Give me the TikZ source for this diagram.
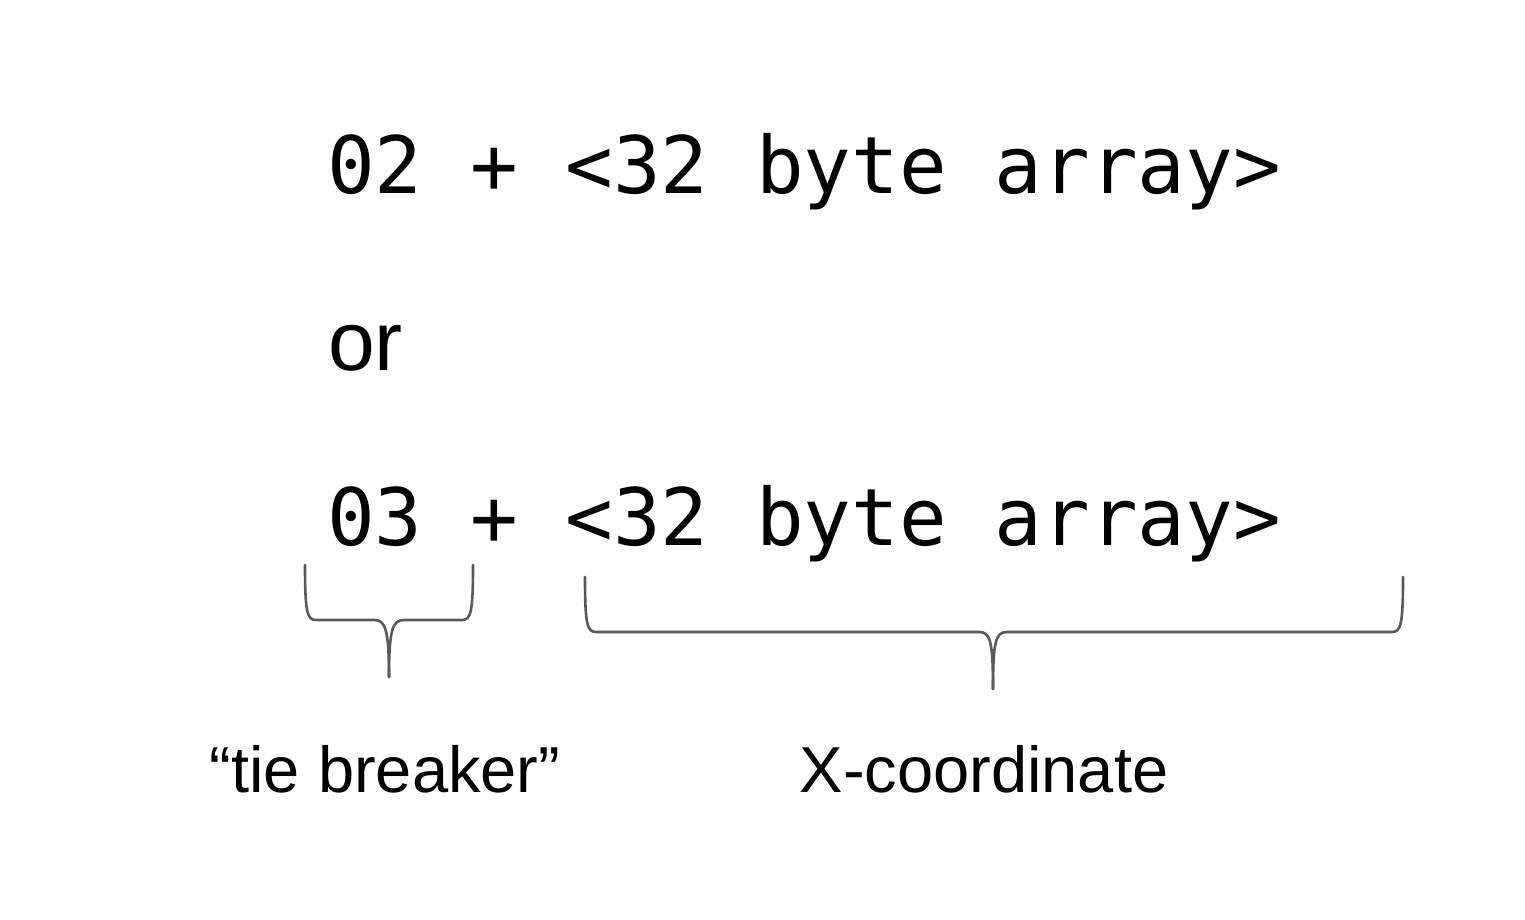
\documentclass[tikz,border=0pt]{standalone}
\usepackage{fontspec}
\setmainfont{Liberation Sans}
\newfontfamily\codefont{DejaVu Sans Mono}
\definecolor{bracegray}{HTML}{5A5A5A}
\begin{document}
\begin{tikzpicture}[x=1pt,y=-1pt,
  code/.style={inner sep=0pt,anchor=base west,font=\codefont\fontsize{79.2}{80}\selectfont},
  label/.style={inner sep=0pt,anchor=base,font=\fontsize{65}{70}\selectfont},
  bracepath/.style={draw=bracegray,line width=2.6pt,line cap=round,line join=round}]
\useasboundingbox (0,0) rectangle (1525,919);
\node[code] (row1) at (327,193) {02 + <32 byte array>};
\node[inner sep=0pt,anchor=base west,font=\fontsize{84}{90}\selectfont] (or) at (328,370) {or};
\node[code] (row3) at (327,545) {03 + <32 byte array>};
\node[label] (tie) at (385,792) {“tie breaker”};
\node[label] (xc) at (984,792) {X-coordinate};
% small brace
\coordinate (s1) at (389,677);
\draw[bracepath] (305,565) .. controls (305,612) and (307,620) .. (316,620) -- (374,620) .. controls (385,620) and (389,628) .. (s1);
\draw[bracepath] (473,565) .. controls (473,612) and (471,620) .. (462,620) -- (404,620) .. controls (393,620) and (389,628) .. (s1);
% large brace
\coordinate (s2) at (993,689);
\draw[bracepath] (585,577) .. controls (585,624) and (587,632) .. (596,632) -- (979,632) .. controls (990,632) and (993,640) .. (s2);
\draw[bracepath] (1403,577) .. controls (1403,624) and (1401,632) .. (1392,632) -- (1007,632) .. controls (996,632) and (993,640) .. (s2);
\end{tikzpicture}
\end{document}
